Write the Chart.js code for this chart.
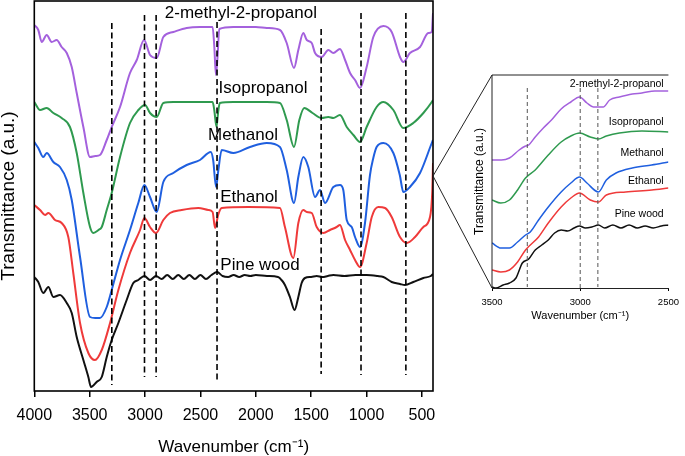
<!DOCTYPE html>
<html>
<head>
<meta charset="utf-8">
<script src="https://cdn.jsdelivr.net/npm/chart.js@4.4.0/dist/chart.umd.min.js"></script>
<style>
  html, body { margin: 0; padding: 0; background: #fff; }
  #wrap { position: relative; width: 685px; height: 456px; }
  #wrap canvas { position: absolute; left: 0; top: 0; }
</style>
</head>
<body>
<div id="wrap">
  <canvas id="main" width="685" height="456"></canvas>
  <canvas id="zoom" width="685" height="456"></canvas>
</div>
<script>
// series names, bottom to top
const seriesNames = ['Pine wood', 'Ethanol', 'Methanol', 'Isopropanol', '2-methyl-2-propanol'];

// main panel, wavenumber (cm-1) and stacked transmittance (a.u.)
const pineWn = [4000,3964,3919,3873,3828,3768,3707,3662,3617,3557,3512,3488,3437,3391,3346,3301,3241,3166,3106,3061,3006,2955,2901,2850,2800,2750,2700,2650,2600,2550,2500,2450,2400,2350,2300,2250,2200,2150,2100,2050,2000,1900,1800,1760,1737,1692,1650,1616,1586,1556,1500,1450,1400,1350,1300,1200,1100,1000,900,848,773,698,653,578,487,420,400];
const pineT = [114,109,98,104,94,96,88,78,54,31,14,4,9,14,34,51,68,91,108,111,115,111,115,112,116,112,116,112,116,112,116,112,116,119,115,114,116,114,116,115,116,115,114,110,106,94,81,94,108,113,114,115,114,115,116,115,116,116,115,114,109,107,106,109,113,115,117];

const ethanolWn = [4000,3948,3903,3873,3813,3753,3693,3648,3587,3512,3452,3391,3316,3241,3136,3045,3006,2955,2901,2835,2775,2669,2519,2429,2390,2368,2340,2308,2067,1782,1737,1661,1616,1571,1540,1495,1450,1390,1330,1270,1240,1194,1149,1104,1059,999,953,894,833,773,698,637,562,487,427,406,400];
const ethanolT = [186,181,176,178,171,168,154,118,68,38,31,41,68,101,138,161,173,164,158,171,178,181,183,181,179,163,176,183,184,183,164,133,168,181,179,178,164,158,161,164,166,151,141,131,124,148,174,184,183,174,154,148,154,164,174,201,228];

const methanolWn = [4000,3964,3919,3888,3828,3768,3707,3662,3587,3497,3450,3407,3346,3301,3226,3136,3061,3006,2955,2895,2835,2745,2624,2504,2407,2385,2359,2338,2308,2203,2052,1901,1782,1721,1655,1616,1571,1526,1465,1420,1375,1300,1240,1210,1179,1134,1104,1059,1014,969,939,909,848,758,700,668,608,517,411,400];
const methanolT = [249,243,234,238,229,224,211,191,134,74,73,73,84,101,131,161,188,206,194,179,209,218,226,231,239,231,204,221,241,238,244,248,244,221,188,214,234,224,194,201,188,204,206,201,171,164,154,144,168,216,233,244,248,238,216,199,204,218,248,251];

const isoWn = [4000,3948,3888,3828,3753,3678,3617,3557,3497,3467,3420,3391,3346,3301,3226,3136,3060,3000,2955,2895,2835,2745,2624,2413,2390,2375,2355,2340,2325,2203,1901,1782,1721,1655,1607,1562,1488,1405,1345,1300,1240,1179,1119,1059,999,909,848,758,668,578,487,411,400];
const isoT = [289,281,283,278,273,264,238,198,164,158,161,164,181,198,234,268,281,286,278,274,288,289,289,289,289,281,264,279,288,289,289,288,271,244,271,283,278,273,274,273,276,264,256,249,264,284,289,281,263,268,278,289,291];

const methylWn = [4000,3964,3933,3888,3843,3798,3753,3707,3662,3617,3557,3497,3450,3407,3346,3301,3226,3136,3075,3009,2955,2895,2835,2745,2624,2504,2413,2390,2375,2360,2345,2330,2203,2000,1901,1782,1721,1655,1616,1571,1540,1495,1465,1405,1345,1300,1240,1194,1149,1104,1059,999,939,848,773,698,668,608,517,442,411,400];
const methylT = [366,361,349,356,349,351,344,338,324,298,264,234,235,236,251,264,284,318,331,351,336,333,354,359,363,364,364,364,345,316,335,362,364,364,363,361,348,323,341,358,351,348,338,334,341,338,342,331,318,311,303,324,354,365,359,334,329,338,344,358,359,378];

// marked bands in the main panel
const bandWn = [3300, 3005, 2900, 2350, 1410, 1050, 645];
const bandTop = [368, 376, 376, 369, 362, 378, 378];
const bandBottom = [6, 14, 14, 8, 17, 16, 16];

const mainTicks = [4000, 3500, 3000, 2500, 2000, 1500, 1000, 500];

// inset 3500-2500 cm-1
const pineZoomWn = [3500,3478,3437,3401,3364,3328,3292,3255,3218,3181,3145,3108,3071,3035,3004,2971,2934,2897,2861,2815,2769,2723,2677,2632,2586,2540,2500];
const pineZoomT = [1,0,3,5,10,25,29,38,43,48,55,58,57,60,62,60,61,63,60,63,60,63,60,62,60,62,63];
const ethanolZoomWn = [3500,3450,3401,3355,3310,3236,3181,3108,3053,3004,2943,2897,2852,2742,2595,2500];
const ethanolZoomT = [18,16,18,26,38,51,65,81,90,95,88,86,93,96,98,100];
const methanolZoomWn = [3500,3450,3401,3355,3310,3283,3236,3181,3108,3053,3004,2962,2897,2852,2797,2705,2595,2500];
const methanolZoomT = [45,40,40,46,53,56,68,81,96,105,111,105,96,108,115,120,123,126];
const isoZoomWn = [3500,3450,3401,3355,3310,3255,3181,3108,3053,3004,2943,2897,2852,2778,2650,2500];
const isoZoomT = [88,85,88,98,110,118,133,146,152,155,151,149,152,155,157,156];
const methylZoomWn = [3500,3447,3401,3346,3310,3292,3255,3209,3163,3108,3053,3004,2962,2925,2870,2833,2778,2705,2650,2577,2500];
const methylZoomT = [128,128,130,138,142,143,151,160,168,179,186,191,185,181,181,188,191,194,195,197,197];

const zoomBandWn = [3300, 3000, 2900];
const zoomBandTop = [200, 200, 200];
const zoomBandBottom = [1, 0, 1];

const zoomTicks = [3500, 3000, 2500];

// label anchors (data coords)
const mainLabelWn = [1962, 2061, 2116, 1935, 2135];
const mainLabelT = [126, 194, 256, 303, 378];
const zoomLabelWn = 2527;
const zoomLabelT = [74, 107, 135, 166, 204];
const zoomAnchorT = 215;

const colors = ['#111111', '#ef3a3a', '#1f5fdf', '#2f9a4f', '#a461dd'];
const FONT = '"Liberation Sans", Arial, Helvetica, sans-serif';

function curve(wn, t, color, width) {
  return {
    data: wn.map((x, i) => ({ x: x, y: t[i] })),
    borderColor: color,
    borderWidth: width,
    pointRadius: 0,
    fill: false,
    cubicInterpolationMode: 'monotone',
    order: 1
  };
}

function guide(x, top, bottom, color, width, dash) {
  return {
    data: [{ x: x, y: top }, { x: x, y: bottom }],
    borderColor: color,
    borderWidth: width,
    borderDash: dash,
    pointRadius: 0,
    fill: false,
    order: 0
  };
}

const mainDecor = {
  id: 'mainDecor',
  afterDatasetsDraw(chart) {
    const { ctx, chartArea: a, scales: { x, y } } = chart;
    ctx.save();
    ctx.strokeStyle = '#000';
    ctx.lineWidth = 1.6;
    ctx.strokeRect(a.left, a.top, a.right - a.left, a.bottom - a.top);
    ctx.fillStyle = '#000';
    ctx.font = '17px ' + FONT;
    ctx.textAlign = 'center';
    ctx.textBaseline = 'middle';
    seriesNames.forEach((name, i) => {
      ctx.fillText(name, x.getPixelForValue(mainLabelWn[i]), y.getPixelForValue(mainLabelT[i]));
    });
    ctx.restore();
  }
};

const mainChart = new Chart(document.getElementById('main'), {
  type: 'line',
  data: {
    datasets: [
      ...bandWn.map((x, i) => guide(x, bandTop[i], bandBottom[i], '#000', 1.6, [6, 3.5])),
      curve(pineWn, pineT, colors[0], 2),
      curve(ethanolWn, ethanolT, colors[1], 2),
      curve(methanolWn, methanolT, colors[2], 2),
      curve(isoWn, isoT, colors[3], 2),
      curve(methylWn, methylT, colors[4], 2)
    ]
  },
  options: {
    responsive: false,
    animation: false,
    devicePixelRatio: 1,
    layout: { padding: { left: 0, top: 1, right: 252, bottom: 0 } },
    plugins: { legend: { display: false }, tooltip: { enabled: false } },
    scales: {
      x: {
        type: 'linear',
        reverse: true,
        min: 400,
        max: 4000,
        afterBuildTicks: s => { s.ticks = mainTicks.map(v => ({ value: v })); },
        afterFit: s => { s.height = 65; },
        ticks: { color: '#000', font: { family: FONT, size: 16 }, padding: 9, maxRotation: 0, autoSkip: false, callback: v => String(v) },
        grid: { drawOnChartArea: false, color: '#000', lineWidth: 1.5, tickLength: 6 },
        border: { display: false },
        title: { display: true, text: 'Wavenumber (cm⁻¹)', color: '#000', font: { family: FONT, size: 17, lineHeight: 1 }, padding: 0 }
      },
      y: {
        min: 0,
        max: 390,
        afterFit: s => { s.width = 34.3; },
        ticks: { display: false },
        grid: { display: false },
        border: { display: false },
        title: { display: true, text: 'Transmittance (a.u.)', color: '#000', font: { family: FONT, size: 19, lineHeight: 0.9 }, padding: 0 }
      }
    }
  },
  plugins: [mainDecor]
});

const zoomDecor = {
  id: 'zoomDecor',
  afterDatasetsDraw(chart) {
    const { ctx, chartArea: a, scales: { x, y } } = chart;
    const m = mainChart.chartArea;
    const ay = mainChart.scales.y.getPixelForValue(zoomAnchorT);
    ctx.save();
    ctx.strokeStyle = '#222';
    ctx.lineWidth = 1;
    ctx.beginPath();
    ctx.moveTo(a.left, a.bottom);
    ctx.lineTo(a.left, a.top);
    ctx.lineTo(a.right, a.top);
    ctx.moveTo(m.right, ay);
    ctx.lineTo(a.left, a.top);
    ctx.moveTo(m.right, ay);
    ctx.lineTo(a.left, a.bottom);
    ctx.stroke();
    ctx.fillStyle = '#000';
    ctx.font = '10.5px ' + FONT;
    ctx.textAlign = 'right';
    ctx.textBaseline = 'middle';
    seriesNames.forEach((name, i) => {
      ctx.fillText(name, x.getPixelForValue(zoomLabelWn), y.getPixelForValue(zoomLabelT[i]));
    });
    ctx.restore();
  }
};

new Chart(document.getElementById('zoom'), {
  type: 'line',
  data: {
    datasets: [
      ...zoomBandWn.map((x, i) => guide(x, zoomBandTop[i], zoomBandBottom[i], '#555', 1, [4, 3])),
      curve(pineZoomWn, pineZoomT, colors[0], 1.5),
      curve(ethanolZoomWn, ethanolZoomT, colors[1], 1.5),
      curve(methanolZoomWn, methanolZoomT, colors[2], 1.5),
      curve(isoZoomWn, isoZoomT, colors[3], 1.5),
      curve(methylZoomWn, methylZoomT, colors[4], 1.5)
    ]
  },
  options: {
    responsive: false,
    animation: false,
    devicePixelRatio: 1,
    layout: { padding: { left: 474, top: 75, right: 11, bottom: 134.5 } },
    plugins: { legend: { display: false }, tooltip: { enabled: false } },
    scales: {
      x: {
        type: 'linear',
        reverse: true,
        min: 2500,
        max: 3500,
        afterBuildTicks: s => { s.ticks = zoomTicks.map(v => ({ value: v })); },
        afterFit: s => { s.height = 33.5; },
        ticks: { color: '#000', font: { family: FONT, size: 9.5 }, padding: 6, maxRotation: 0, autoSkip: false, callback: v => String(v) },
        grid: { drawOnChartArea: false, color: '#000', lineWidth: 1, tickLength: 3 },
        border: { display: true, color: '#222', width: 1 },
        title: { display: true, text: 'Wavenumber (cm⁻¹)', color: '#000', font: { family: FONT, size: 11, lineHeight: 1 }, padding: 0 }
      },
      y: {
        min: 0,
        max: 213,
        afterFit: s => { s.width = 18; },
        ticks: { display: false },
        grid: { display: false },
        border: { display: false },
        title: { display: true, text: 'Transmittance (a.u.)', color: '#000', font: { family: FONT, size: 12, lineHeight: 1 }, padding: 0 }
      }
    }
  },
  plugins: [zoomDecor]
});
</script>
</body>
</html>
